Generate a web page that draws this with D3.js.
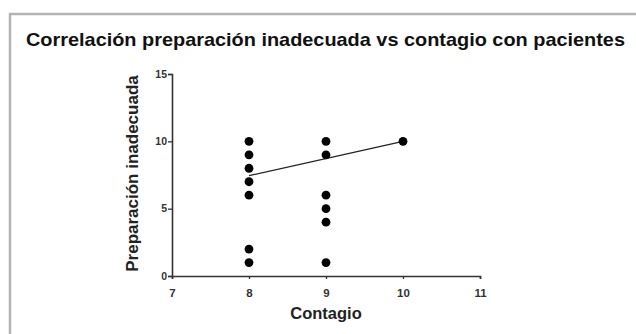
<!DOCTYPE html>
<html>
<head>
<meta charset="utf-8">
<script src="https://cdn.jsdelivr.net/npm/d3@7"></script>
<style>
  html, body { margin: 0; padding: 0; background: #fff; }
  svg { display: block; }
</style>
</head>
<body>
<svg id="chart" width="636" height="334"></svg>
<script>
// Contagio (x) vs Preparación inadecuada (y)
const contagio   = [8, 8, 8, 8, 8, 8, 8, 9, 9, 9, 9, 9, 9, 10];
const preparacion = [10, 9, 8, 7, 6, 2, 1, 10, 9, 6, 5, 4, 1, 10];

// Fitted regression line endpoints
const fitX = [8, 10];
const fitY = [7.45, 10];

const xTicks = [7, 8, 9, 10, 11];
const yTicks = [0, 5, 10, 15];

const title = "Correlación preparación inadecuada vs contagio con pacientes";
const xTitle = "Contagio";
const yTitle = "Preparación inadecuada";

const svg = d3.select("#chart");
const font = "Arial, 'Liberation Sans', sans-serif";

// Panel frame (left and top edges)
svg.append("path")
  .attr("d", "M10,334 L10,14 L636,14")
  .attr("fill", "none")
  .attr("stroke", "#b4b4b4")
  .attr("stroke-width", 2.5);

svg.append("text")
  .attr("x", 26).attr("y", 46)
  .attr("font-family", font)
  .attr("font-weight", "bold")
  .attr("font-size", 18.5)
  .attr("textLength", 599)
  .attr("lengthAdjust", "spacingAndGlyphs")
  .attr("fill", "#111")
  .text(title);

const x = d3.scaleLinear().domain([7, 11]).range([172, 480]);
const y = d3.scaleLinear().domain([0, 15]).range([276, 74]);

const xAxis = svg.append("g")
  .attr("transform", `translate(0,${y(0)})`)
  .call(d3.axisBottom(x).tickValues(xTicks).tickFormat(d3.format("d")).tickSizeOuter(0).tickSize(3).tickPadding(10));

const yAxis = svg.append("g")
  .attr("transform", `translate(${x(7)},0)`)
  .call(d3.axisLeft(y).tickValues(yTicks).tickFormat(d3.format("d")).tickSizeOuter(0).tickSize(4).tickPadding(1));

[xAxis, yAxis].forEach(g => {
  g.select(".domain").attr("stroke", "#333").attr("stroke-width", 1.6);
  g.selectAll(".tick line").attr("stroke", "#333").attr("stroke-width", 1.3);
  g.selectAll(".tick text")
    .attr("font-family", font)
    .attr("font-weight", "bold")
    .attr("fill", "#333");
});
xAxis.selectAll(".tick text").attr("font-size", 11.5);
yAxis.selectAll(".tick text").attr("font-size", 10.5).attr("dy", "0.3em");

svg.append("text")
  .attr("x", 326).attr("y", 319)
  .attr("text-anchor", "middle")
  .attr("font-family", font)
  .attr("font-weight", "bold")
  .attr("font-size", 16.5)
  .attr("fill", "#222")
  .text(xTitle);

svg.append("text")
  .attr("transform", `translate(138,173.5) rotate(-90)`)
  .attr("text-anchor", "middle")
  .attr("font-family", font)
  .attr("font-weight", "bold")
  .attr("font-size", 17)
  .attr("fill", "#222")
  .text(yTitle);

// Regression line
svg.append("line")
  .attr("x1", x(fitX[0])).attr("y1", y(fitY[0]))
  .attr("x2", x(fitX[1])).attr("y2", y(fitY[1]))
  .attr("stroke", "#222")
  .attr("stroke-width", 1.3);

// Points
svg.append("g").selectAll("circle")
  .data(contagio.map((c, i) => [c, preparacion[i]]))
  .join("circle")
  .attr("cx", d => x(d[0]))
  .attr("cy", d => y(d[1]))
  .attr("r", 4.4)
  .attr("fill", "#000");
</script>
</body>
</html>
